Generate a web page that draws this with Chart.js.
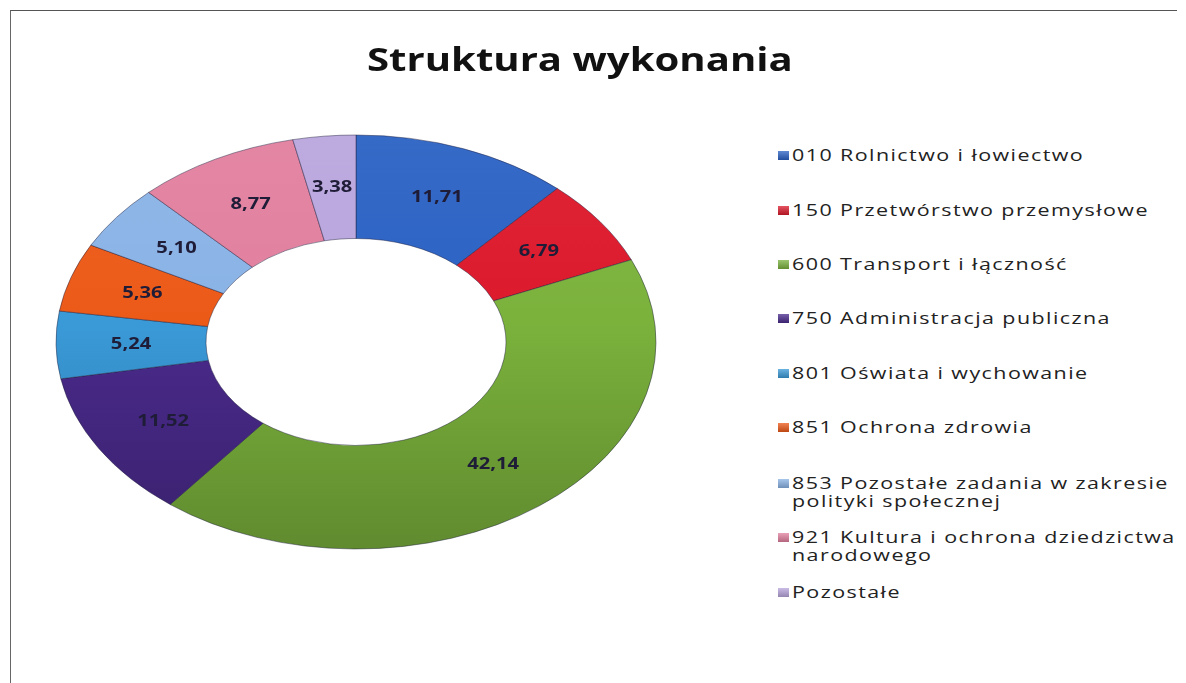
<!DOCTYPE html>
<html>
<head>
<meta charset="utf-8">
<script src="https://cdn.jsdelivr.net/npm/chart.js@4"></script>
<style>
  html, body { margin: 0; padding: 0; background: #fff; }
  body { width: 1186px; height: 683px; position: relative; overflow: hidden; font-family: 'Open Sans', sans-serif; }
  .frame { position: absolute; left: 10px; top: 10px; width: 1166px; height: 690px; border-top: 1px solid #555; border-left: 1px solid #666; }
  h1 { position: absolute; left: 367px; top: 39px; margin: 0; font-size: 32px; line-height: 40px; font-weight: 700; color: #111; z-index: 2; white-space: nowrap; transform-origin: 0 0; }
  #wrap { position: absolute; left: 46px; top: 32px; width: 620px; height: 620px; z-index: 1; }
  #legend { position: absolute; left: 776px; top: 146px; z-index: 2; }
  .item { position: absolute; left: 0; display: flex; align-items: flex-start; font-size: 16.5px; color: #222; line-height: 18px; white-space: nowrap; }
  .box { width: 11px; height: 9px; margin: 5px 3px 0 2px; flex: none; }
  .txt { transform-origin: 0 0; letter-spacing: 1.1px; }
</style>
</head>
<body>
<div class="frame"></div>
<h1 id="title">Struktura wykonania</h1>
<div id="wrap"><canvas id="donut" width="620" height="620"></canvas></div>
<div id="legend"></div>
<script>
const categories = [
  '010 Rolnictwo i łowiectwo',
  '150 Przetwórstwo przemysłowe',
  '600 Transport i łączność',
  '750 Administracja publiczna',
  '801 Oświata i wychowanie',
  '851 Ochrona zdrowia',
  '853 Pozostałe zadania w zakresie\npolityki społecznej',
  '921 Kultura i ochrona dziedzictwa\nnarodowego',
  'Pozostałe'
];
const shares = [11.71, 6.79, 42.14, 11.52, 5.24, 5.36, 5.10, 8.77, 3.38];
const colors = ['#2b62c4', '#dc1a2c', '#7bb23c', '#4a2a8c', '#3a9ad8', '#ec5a18', '#8ab3e6', '#e2809f', '#b9a6dd'];
const legendTops = [0, 55, 109, 163, 218, 272, 328, 382, 437];

const squash = 0.69;
const stretch = 1.3;

function shade(hex, amt) {
  const n = parseInt(hex.slice(1), 16);
  const f = c => Math.max(0, Math.min(255, Math.round(amt > 0 ? c + (255 - c) * amt : c * (1 + amt))));
  return `rgb(${f(n >> 16)},${f((n >> 8) & 255)},${f(n & 255)})`;
}

// draw the ring flattened vertically, like the tilted original
const tiltPlugin = {
  id: 'tilt',
  beforeDatasetsDraw(chart) {
    const arc = chart.getDatasetMeta(0).data[0];
    const ctx = chart.ctx;
    ctx.save();
    ctx.translate(arc.x, arc.y);
    ctx.scale(1, squash);
    ctx.translate(-arc.x, -arc.y);
  },
  afterDatasetsDraw(chart) {
    const ctx = chart.ctx;
    ctx.restore();
    const meta = chart.getDatasetMeta(0);
    ctx.save();
    ctx.font = '700 15.5px "Open Sans"';
    ctx.fillStyle = '#1f1c38';
    ctx.textAlign = 'center';
    ctx.textBaseline = 'middle';
    meta.data.forEach((el, i) => {
      const p = el.tooltipPosition();
      const y = el.y + (p.y - el.y) * squash;
      ctx.save();
      ctx.translate(p.x, y);
      ctx.scale(stretch, 1);
      ctx.fillText(shares[i].toFixed(2).replace('.', ','), 0, 0);
      ctx.restore();
    });
    ctx.restore();
  }
};

new Chart(document.getElementById('donut'), {
  type: 'doughnut',
  data: {
    labels: categories,
    datasets: [{
      data: shares,
      backgroundColor: (c) => {
        const area = c.chart.chartArea;
        if (!area) return colors[c.dataIndex];
        const cy = (area.top + area.bottom) / 2;
        const g = c.chart.ctx.createLinearGradient(0, cy - 300, 0, cy + 300);
        const base = colors[c.dataIndex];
        g.addColorStop(0, shade(base, 0.05));
        g.addColorStop(0.45, base);
        g.addColorStop(1, shade(base, -0.22));
        return g;
      },
      borderColor: 'rgba(30,30,60,0.55)',
      borderWidth: 1,
      radius: 300,
      cutout: '50%'
    }]
  },
  options: {
    responsive: false,
    animation: false,
    plugins: { legend: { display: false }, tooltip: { enabled: false } },
    layout: { padding: 0 }
  },
  plugins: [tiltPlugin]
});

// title stretched to the width of the original
const title = document.getElementById('title');
title.style.transform = `scaleX(${426 / title.offsetWidth})`;

const legend = document.getElementById('legend');
categories.forEach((c, i) => {
  const item = document.createElement('div');
  item.className = 'item';
  item.style.top = legendTops[i] + 'px';
  const box = document.createElement('span');
  box.className = 'box';
  box.style.background = `linear-gradient(${shade(colors[i], 0.25)}, ${shade(colors[i], -0.2)})`;
  const txt = document.createElement('span');
  txt.className = 'txt';
  txt.style.transform = `scaleX(${stretch})`;
  txt.innerHTML = c.split('\n').join('<br>');
  item.appendChild(box);
  item.appendChild(txt);
  legend.appendChild(item);
});
</script>
</body>
</html>
